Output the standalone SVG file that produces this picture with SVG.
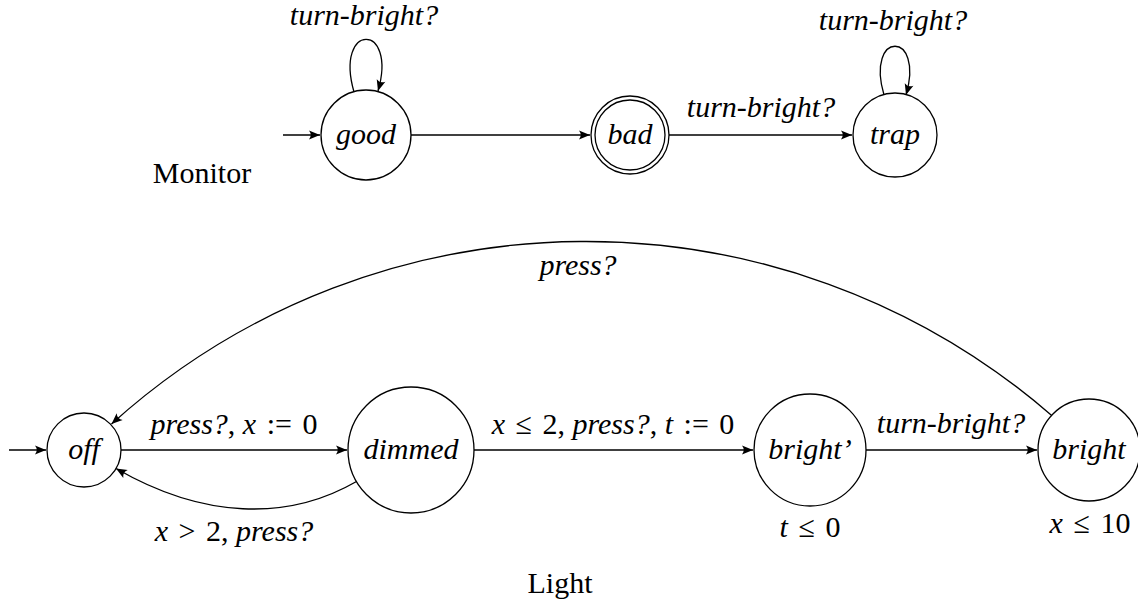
<svg xmlns="http://www.w3.org/2000/svg" width="1138" height="606" viewBox="0 0 1138 606">
<style>
.n{fill:#fff;stroke:#000;stroke-width:1.3}
.e{fill:none;stroke:#000;stroke-width:1.3;marker-end:url(#arr)}
text{font-family:"Liberation Serif","Times New Roman",serif;font-size:30px;fill:#000;text-anchor:middle}
.it{font-style:italic}
.rm{font-style:normal}
</style>
<defs>
<marker id="arr" markerUnits="userSpaceOnUse" markerWidth="14" markerHeight="12" viewBox="-12 -6 13 12" refX="0" refY="0" orient="auto">
<path d="M0,0 L-11,-4.5 Q-7.5,0 -11,4.5 Z" fill="#000"/>
</marker>
</defs>
<g id="connectors">
<path class="e" d="M283,135 L320,135"/>
<path class="e" d="M354,92 C334,22 398,22 378,91"/>
<path class="e" d="M411,135 L590,135"/>
<path class="e" d="M669,135 L852,135"/>
<path class="e" d="M884,95 C865,30 925,30 906,95"/>
<path class="e" d="M9,450 L46,450"/>
<path class="e" d="M121,450 L347,450"/>
<path class="e" d="M474,450 L753,450"/>
<path class="e" d="M866,450 L1037,450"/>
<path class="e" d="M356.5,481.5 C287.2,521.5 202.6,518.5 116,468.5"/>
<path class="e" d="M1052,415.7 C781.1,180.7 378.1,183.4 111.5,424"/>
</g>
<g id="labels">
<text x="364" y="25" class="it">turn-bright?</text>
<text x="893" y="30" class="it">turn-bright?</text>
<text x="761" y="117" class="it">turn-bright?</text>
<text x="202" y="183">Monitor</text>
<text x="234" y="434"><tspan class="it">press?</tspan>, <tspan class="it">x</tspan><tspan dx="3"> :=</tspan><tspan dx="3"> 0</tspan></text>
<text x="613" y="434"><tspan class="it">x</tspan><tspan dx="3"> ≤</tspan><tspan dx="3"> 2,</tspan> <tspan class="it">press?</tspan>, <tspan class="it">t</tspan><tspan dx="3"> :=</tspan><tspan dx="3"> 0</tspan></text>
<text x="951" y="433" class="it">turn-bright?</text>
<text x="234" y="541"><tspan class="it">x</tspan><tspan dx="3"> &gt;</tspan><tspan dx="3"> 2,</tspan> <tspan class="it">press?</tspan></text>
<text x="578" y="275" class="it">press?</text>
<text x="810" y="537"><tspan class="it">t</tspan><tspan dx="3"> ≤</tspan><tspan dx="3"> 0</tspan></text>
<text x="1090" y="533"><tspan class="it">x</tspan><tspan dx="3"> ≤</tspan><tspan dx="3"> 10</tspan></text>
<text x="560" y="593">Light</text>
</g>
<g id="good"><circle class="n" cx="366" cy="135" r="45"/><text x="366" y="144" class="it">good</text></g>
<g id="bad"><circle class="n" cx="630" cy="135" r="39"/><circle class="n" cx="630" cy="135" r="35"/><text x="630" y="144" class="it">bad</text></g>
<g id="trap"><circle class="n" cx="895" cy="135" r="42"/><text x="895" y="144" class="it">trap</text></g>
<g id="off"><circle class="n" cx="84" cy="450" r="37"/><text x="84" y="459" class="it">off</text></g>
<g id="dimmed"><circle class="n" cx="411" cy="450" r="63"/><text x="411" y="459" class="it">dimmed</text></g>
<g id="bright_prime"><circle class="n" cx="810" cy="450" r="56"/><text x="810" y="459" class="it">bright’</text></g>
<g id="bright"><circle class="n" cx="1089" cy="450" r="51"/><text x="1089" y="459" class="it">bright</text></g>
</svg>
